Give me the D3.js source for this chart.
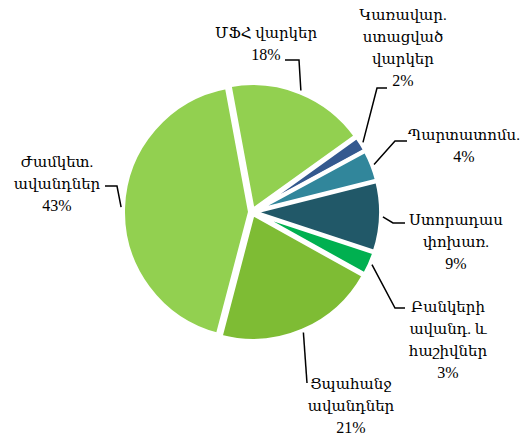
<!DOCTYPE html>
<html><head><meta charset="utf-8">
<script src="https://cdn.jsdelivr.net/npm/d3@7/dist/d3.min.js"></script>
<style>body{margin:0;background:#fff}</style>
</head><body>
<svg id="c" width="522" height="435"></svg>
<script>
const categories = [
  ["ՄՖՀ վարկեր"],
  ["Կառավար.", "ստացված", "վարկեր"],
  ["Պարտատոմս."],
  ["Ստորադաս", "փոխառ."],
  ["Բանկերի", "ավանդ. և", "հաշիվներ"],
  ["Ցպահանջ", "ավանդներ"],
  ["Ժամկետ.", "ավանդներ"]
];
const values = [18, 2, 4, 9, 3, 21, 43];
const colors = ["#92d050", "#34598f", "#31869b", "#215868", "#00b050", "#7ebc34", "#92d050"];
// label layout: text centre x, first line centre y, leader elbow and end
const labelLayout = [
  {x: 266, y: 33, ex: 299, ey: 60, hx: 285},
  {x: 403, y: 15, ex: 377, ey: 88, hx: 387},
  {x: 464, y: 135, ex: 395, ey: 141, hx: 407},
  {x: 456, y: 220, ex: 393, ey: 223, hx: 405},
  {x: 448, y: 307, ex: 395, ey: 308, hx: 405},
  {x: 351, y: 384, ex: 307, ey: 383, hx: 307},
  {x: 57, y: 162, ex: 117, ey: 186, hx: 105}
];

const svg = d3.select("#c");
const cx = 252, cy = 212, R = 127;
const startDeg = -10.5;
const pie = d3.pie().sort(null).value(d => d)
  .startAngle(startDeg * Math.PI / 180)
  .endAngle((startDeg + 360) * Math.PI / 180);
const arcs = pie(values);
const arc = d3.arc().innerRadius(0).outerRadius(R);
const g = svg.append("g").attr("transform", `translate(${cx},${cy})`);
const explode = 2;
g.selectAll("path").data(arcs).join("path")
  .attr("d", arc)
  .attr("fill", (d, i) => colors[i])
  .attr("stroke", "#fff").attr("stroke-width", 4).attr("stroke-linejoin", "miter")
  .attr("transform", d => {
    const m = (d.startAngle + d.endAngle) / 2;
    return `translate(${explode * Math.sin(m)},${-explode * Math.cos(m)})`;
  });

const font = "'Liberation Serif','DejaVu Serif',serif";
arcs.forEach((d, i) => {
  const m = (d.startAngle + d.endAngle) / 2;
  const rr = R + 4;
  const px = cx + rr * Math.sin(m), py = cy - rr * Math.cos(m);
  const L = labelLayout[i];
  svg.append("polyline")
    .attr("points", `${px},${py} ${L.ex},${L.ey} ${L.hx},${L.ey}`)
    .attr("fill", "none").attr("stroke", "#000").attr("stroke-width", 1.5);
  const lines = categories[i].concat([values[i] + "%"]);
  const t = svg.append("text").attr("text-anchor", "middle")
    .attr("font-family", font).attr("fill", "#000");
  lines.forEach((s, j) => {
    t.append("tspan").attr("x", L.x).attr("y", L.y + j * 21.8).attr("dy", "0.35em")
      .attr("font-size", j === lines.length - 1 ? 16 : 15).text(s);
  });
});
</script>
</body></html>
